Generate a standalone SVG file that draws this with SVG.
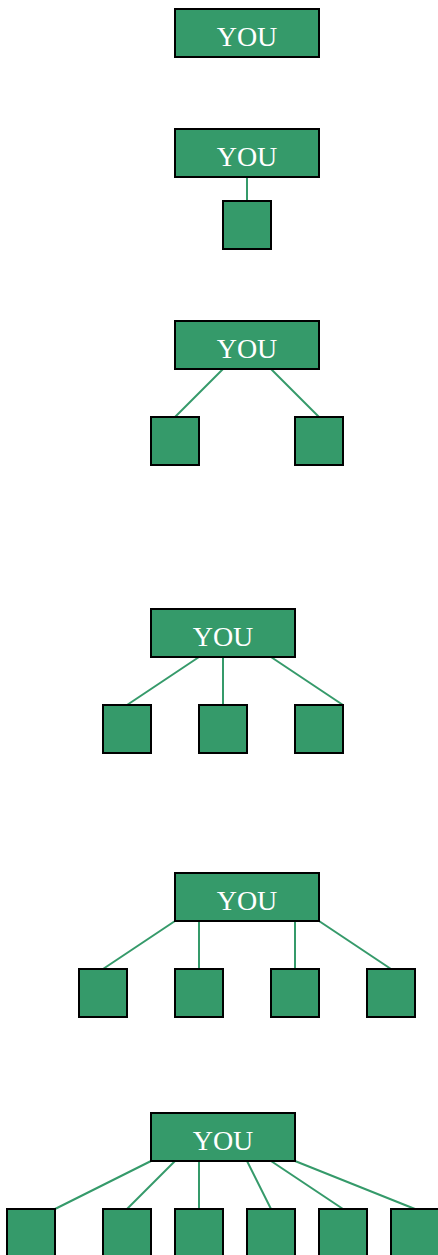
<svg xmlns="http://www.w3.org/2000/svg" width="438" height="1255" viewBox="0 0 438 1255">
<style>
.n{fill:#359a6a;stroke:#000;stroke-width:2}
.t{fill:#fff;font-family:"Liberation Serif","Times New Roman",serif;font-size:28px;text-anchor:middle}
.c line{stroke:#359a6a;stroke-width:2}
</style>
<rect width="438" height="1255" fill="#fff"/>
<g class="c" id="connectors">
<line x1="247" y1="177" x2="247" y2="201"/>
<line x1="223" y1="369" x2="175" y2="417"/>
<line x1="271" y1="369" x2="319" y2="417"/>
<line x1="199" y1="657" x2="127" y2="705"/>
<line x1="223" y1="657" x2="223" y2="705"/>
<line x1="271" y1="657" x2="343" y2="705"/>
<line x1="175" y1="921" x2="103" y2="969"/>
<line x1="199" y1="921" x2="199" y2="969"/>
<line x1="295" y1="921" x2="295" y2="969"/>
<line x1="319" y1="921" x2="391" y2="969"/>
<line x1="151" y1="1161" x2="55" y2="1209"/>
<line x1="175" y1="1161" x2="127" y2="1209"/>
<line x1="199" y1="1161" x2="199" y2="1209"/>
<line x1="247" y1="1161" x2="271" y2="1209"/>
<line x1="271" y1="1161" x2="343" y2="1209"/>
<line x1="295" y1="1161" x2="415" y2="1209"/>
</g>
<g id="you1"><rect class="n" x="175" y="9" width="144" height="48"/><text class="t" x="247" y="46">YOU</text></g>
<g id="you2"><rect class="n" x="175" y="129" width="144" height="48"/><text class="t" x="247" y="166">YOU</text></g>
<g id="c2a"><rect class="n" x="223" y="201" width="48" height="48"/></g>
<g id="you3"><rect class="n" x="175" y="321" width="144" height="48"/><text class="t" x="247" y="358">YOU</text></g>
<g id="c3a"><rect class="n" x="151" y="417" width="48" height="48"/></g>
<g id="c3b"><rect class="n" x="295" y="417" width="48" height="48"/></g>
<g id="you4"><rect class="n" x="151" y="609" width="144" height="48"/><text class="t" x="223" y="646">YOU</text></g>
<g id="c4a"><rect class="n" x="103" y="705" width="48" height="48"/></g>
<g id="c4b"><rect class="n" x="199" y="705" width="48" height="48"/></g>
<g id="c4c"><rect class="n" x="295" y="705" width="48" height="48"/></g>
<g id="you5"><rect class="n" x="175" y="873" width="144" height="48"/><text class="t" x="247" y="910">YOU</text></g>
<g id="c5a"><rect class="n" x="79" y="969" width="48" height="48"/></g>
<g id="c5b"><rect class="n" x="175" y="969" width="48" height="48"/></g>
<g id="c5c"><rect class="n" x="271" y="969" width="48" height="48"/></g>
<g id="c5d"><rect class="n" x="367" y="969" width="48" height="48"/></g>
<g id="you6"><rect class="n" x="151" y="1113" width="144" height="48"/><text class="t" x="223" y="1150">YOU</text></g>
<g id="c6a"><rect class="n" x="7" y="1209" width="48" height="48"/></g>
<g id="c6b"><rect class="n" x="103" y="1209" width="48" height="48"/></g>
<g id="c6c"><rect class="n" x="175" y="1209" width="48" height="48"/></g>
<g id="c6d"><rect class="n" x="247" y="1209" width="48" height="48"/></g>
<g id="c6e"><rect class="n" x="319" y="1209" width="48" height="48"/></g>
<g id="c6f"><rect class="n" x="391" y="1209" width="48" height="48"/></g>
</svg>
